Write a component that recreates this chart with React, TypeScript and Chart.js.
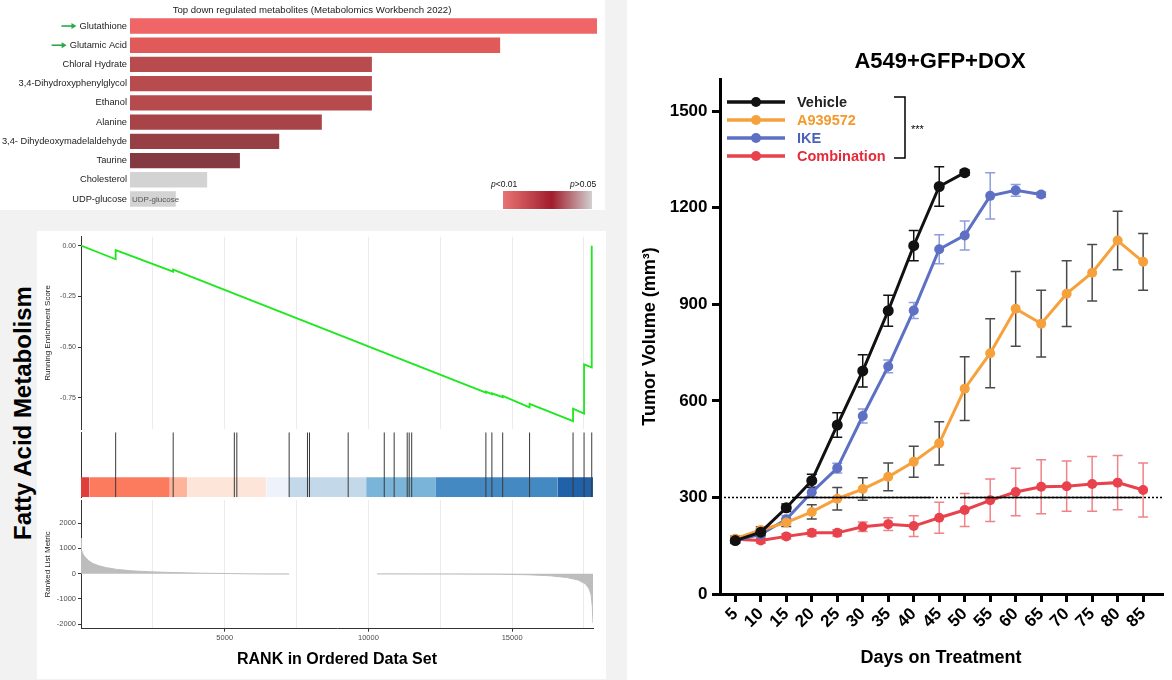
import React, { useEffect, useRef } from "react";
import { Chart, registerables } from "chart.js";

Chart.register(...registerables);

const FONT = "'Liberation Sans', Arial, Helvetica, sans-serif";
Chart.defaults.font.family = FONT;

// ================= Panel A: top down-regulated metabolites =================
const metaboliteTitle = "Top down regulated metabolites (Metabolomics Workbench 2022)";
const metabolites = [
  "Glutathione",
  "Glutamic Acid",
  "Chloral Hydrate",
  "3,4-Dihydroxyphenylglycol",
  "Ethanol",
  "Alanine",
  "3,4- Dihydeoxymadelaldehyde",
  "Taurine",
  "Cholesterol",
  "UDP-glucose",
];
const metaboliteScores = [10.0, 7.93, 5.19, 5.19, 5.19, 4.12, 3.21, 2.37, 1.67, 1.0];
const metaboliteColors = [
  "#f06565", "#e05a5a", "#b84b4e", "#b84b4e", "#b64a4d",
  "#a84448", "#963f45", "#843a40", "#d3d3d3", "#d3d3d3",
];
const arrowedMetabolites = ["Glutathione", "Glutamic Acid"];
const inBarLabel = "UDP-glucose";
const pLegendLow = "<0.01";
const pLegendHigh = ">0.05";

// ================= Panel B: GSEA Fatty Acid Metabolism =================
const gseaTitle = "Fatty Acid Metabolism";
const rankMax = 17814;
const rankTicks = [0, 2500, 5000, 7500, 10000, 12500, 15000, 17500];
const rankLabelTicks = [5000, 10000, 15000];
const esRanks = [0, 1206, 1206, 3206, 3206, 14087, 14087, 14296, 14296, 14672, 14672, 15607, 15607, 17120, 17120, 17503, 17503, 17770, 17770];
const esScores = [0, -0.067, -0.022, -0.128, -0.118, -0.725, -0.72, -0.732, -0.728, -0.747, -0.741, -0.797, -0.78, -0.865, -0.804, -0.828, -0.585, -0.6, 0];
const esTicks = [0, -0.25, -0.5, -0.75];
const hitRanks = [1206, 3208, 5335, 5422, 7242, 7880, 7950, 9296, 10551, 10896, 11350, 11419, 11506, 14087, 14296, 14672, 15607, 17120, 17503, 17770];
const bandStarts = [0, 300, 3090, 3700, 6450, 7220, 9920, 12350, 16570];
const bandEnds = [300, 3090, 3700, 6450, 7220, 9920, 12350, 16570, 17814];
const bandColors = ["#e03e3a", "#fc7b5f", "#fdb49a", "#fee5d9", "#eef2fa", "#c3d9e9", "#7bb4d9", "#4589c3", "#2161a7"];
const metricRanks = [0, 8, 25, 60, 110, 170, 260, 400, 600, 880, 1250, 1750, 2400, 3200, 4200, 5200, 6300, 7240, 8800, 10300, 11500, 13000, 14500, 15500, 16300, 16900, 17300, 17550, 17680, 17750, 17790, 17814];
const metricValues = [1400, 1080, 930, 800, 700, 620, 520, 410, 320, 240, 170, 115, 75, 45, 20, 5, -12, -15, null, -10, -12, -15, -20, -40, -80, -150, -250, -400, -600, -850, -1300, -1950];
const metricTicks = [-2000, -1000, 0, 1000, 2000];

// ================= Panel C: tumour volume =================
const tumorTitle = "A549+GFP+DOX";
const days = [5, 10, 15, 20, 25, 30, 35, 40, 45, 50, 55, 60, 65, 70, 75, 80, 85];
const volumeTicks = [0, 300, 600, 900, 1200, 1500];
const groups = ["Vehicle", "A939572", "IKE", "Combination"];
const vehicleVolume = [166, 192, 268, 352, 525, 693, 880, 1082, 1266, 1309];
const vehicleSem = [8, 10, 12, 20, 38, 50, 48, 47, 61, 8];
const a939572Volume = [172, 199, 222, 255, 296, 326, 364, 411, 468, 638, 748, 886, 840, 933, 998, 1098, 1032];
const a939572Sem = [8, 10, 12, 22, 35, 35, 43, 48, 67, 99, 107, 116, 104, 102, 88, 91, 88];
const ikeVolume = [166, 185, 232, 316, 391, 553, 707, 881, 1071, 1114, 1237, 1254, 1241];
const ikeSem = [6, 8, 12, 15, 15, 22, 20, 25, 45, 45, 72, 18, 8];
const combinationVolume = [170, 166, 179, 190, 190, 209, 217, 211, 237, 261, 291, 317, 333, 335, 342, 346, 323];
const combinationSem = [6, 8, 8, 10, 10, 15, 20, 32, 48, 51, 66, 74, 84, 78, 85, 84, 84];
const refVolume = 300;
const refSolidSpans = [[16.5, 43.5], [49.5, 84.5]];
const significance = "***";

const groupValues = [vehicleVolume, a939572Volume, ikeVolume, combinationVolume];
const groupErrors = [vehicleSem, a939572Sem, ikeSem, combinationSem];
const lineColors = ["#111111", "#f7a13c", "#5d70c4", "#e8424c"];
const errorColors = ["#111111", "#4a4a4a", "#8e9ddb", "#f0828a"];
const legendTextColors = ["#222222", "#f49a2c", "#4a62b8", "#e52a3a"];

// ---------- helpers ----------
const fitBox = (w?: number, h?: number) => (s: any) => {
  if (w !== undefined) s.width = w;
  if (h !== undefined) s.height = h;
  s.paddingTop = 0;
  s.paddingBottom = 0;
  s.paddingLeft = 0;
  s.paddingRight = 0;
};
const setTicks = (vals: number[]) => (s: any) => {
  s.ticks = vals.map((v) => ({ value: v }));
};
const plainNumber = (v: any) => String(v);
const noLegend = { legend: { display: false }, tooltip: { enabled: false } };
const LABEL_SIZE = 9.3;

// ---------- Panel A chart ----------
const metaboliteDecor = {
  id: "metaboliteDecor",
  afterDraw(chart: any) {
    const { ctx, chartArea } = chart;
    const y = chart.scales.y;
    const x = chart.scales.x;
    ctx.save();
    ctx.fillStyle = "#222";
    ctx.font = `9.6px ${FONT}`;
    ctx.textAlign = "center";
    ctx.textBaseline = "middle";
    ctx.fillText(metaboliteTitle, 312, 10);

    // arrows before highlighted labels
    ctx.font = `${LABEL_SIZE}px ${FONT}`;
    metabolites.forEach((m, i) => {
      if (!arrowedMetabolites.includes(m)) return;
      const yy = y.getPixelForValue(i);
      const w = ctx.measureText(m).width;
      const xEnd = chartArea.left - 3 - w - 3;
      const xStart = xEnd - 15;
      ctx.strokeStyle = "#2aa84a";
      ctx.fillStyle = "#2aa84a";
      ctx.lineWidth = 1.6;
      ctx.beginPath();
      ctx.moveTo(xStart, yy);
      ctx.lineTo(xEnd - 4, yy);
      ctx.stroke();
      ctx.beginPath();
      ctx.moveTo(xEnd, yy);
      ctx.lineTo(xEnd - 5, yy - 3);
      ctx.lineTo(xEnd - 5, yy + 3);
      ctx.closePath();
      ctx.fill();
    });

    // label inside the last bar
    const ui = metabolites.indexOf(inBarLabel);
    ctx.font = `8px ${FONT}`;
    ctx.fillStyle = "#555";
    ctx.textAlign = "left";
    ctx.fillText(inBarLabel, x.getPixelForValue(0) + 2, y.getPixelForValue(ui) + 1);

    // p-value gradient legend
    const gx0 = 503, gx1 = 592, gy0 = 191, gy1 = 209;
    const g = ctx.createLinearGradient(gx0, 0, gx1, 0);
    g.addColorStop(0, "#e87474");
    g.addColorStop(0.55, "#a11d2d");
    g.addColorStop(1, "#d2d0d0");
    ctx.fillStyle = g;
    ctx.fillRect(gx0, gy0, gx1 - gx0, gy1 - gy0);
    const drawP = (rest: string, px: number, py: number) => {
      ctx.fillStyle = "#111";
      ctx.font = `italic 8.5px ${FONT}`;
      ctx.fillText("p", px, py);
      const pw = ctx.measureText("p").width;
      ctx.font = `8.5px ${FONT}`;
      ctx.fillText(rest, px + pw, py);
    };
    drawP(pLegendLow, 491, 185);
    drawP(pLegendHigh, 570, 185);
    ctx.restore();
  },
};

const makeMetaboliteChart = () => ({
  type: "bar",
  data: {
    labels: metabolites,
    datasets: [
      {
        data: metaboliteScores,
        backgroundColor: metaboliteColors,
        borderColor: "rgba(255,255,255,0.55)",
        borderWidth: 1,
        barPercentage: 0.9,
        categoryPercentage: 1,
      },
    ],
  },
  options: {
    indexAxis: "y",
    responsive: false,
    animation: false,
    layout: { padding: { top: 16.4, right: 8, bottom: 0.4, left: 0 } },
    plugins: noLegend,
    scales: {
      x: { display: false, min: 0, max: 10 },
      y: {
        afterFit: fitBox(130),
        grid: { display: false, drawTicks: false },
        border: { display: false },
        ticks: { padding: 3, color: "#222", font: { family: FONT, size: LABEL_SIZE } },
      },
    },
  },
  plugins: [metaboliteDecor],
});

// ---------- Panel B charts ----------
const makeEsChart = () => ({
  type: "line",
  data: {
    datasets: [
      {
        data: esRanks.map((r, i) => ({ x: r, y: esScores[i] })),
        borderColor: "#1ee81e",
        borderWidth: 1.8,
        pointRadius: 0,
        tension: 0,
        fill: false,
      },
    ],
  },
  options: {
    responsive: false,
    animation: false,
    layout: { padding: { left: 0, right: 13, top: 6.7, bottom: 2 } },
    plugins: noLegend,
    scales: {
      x: {
        type: "linear",
        min: 0,
        max: rankMax,
        afterBuildTicks: setTicks(rankTicks),
        afterFit: fitBox(undefined, 0),
        ticks: { display: false },
        grid: { color: "#ebebeb", drawTicks: false, lineWidth: 1 },
        border: { display: false },
      },
      y: {
        min: -0.904,
        max: 0.044,
        afterBuildTicks: setTicks(esTicks),
        afterFit: fitBox(44),
        grid: { display: true, drawOnChartArea: false, drawTicks: true, tickLength: 3, color: "#333" },
        border: { display: true, color: "#333", width: 1 },
        ticks: {
          padding: 2,
          color: "#4d4d4d",
          font: { family: FONT, size: 7 },
          callback: (v: any) => Number(v).toFixed(2),
        },
        title: {
          display: true,
          text: "Running Enrichment Score",
          color: "#222",
          font: { family: FONT, size: 8 },
          padding: { top: 6.2, bottom: 0 },
        },
      },
    },
  },
});

const makeHitsChart = () => {
  const hitData: any[] = [];
  hitRanks.forEach((r) => {
    hitData.push({ x: r, y: 0 }, { x: r, y: 1 }, { x: r, y: null });
  });
  const bandTop = 0.308;
  const bandSets = bandStarts.map((s, i) => ({
    data: [
      { x: s, y: bandTop },
      { x: bandEnds[i], y: bandTop },
    ],
    borderWidth: 0,
    borderColor: bandColors[i],
    backgroundColor: bandColors[i],
    fill: "origin",
    pointRadius: 0,
    order: 1,
  }));
  return {
    type: "line",
    data: {
      datasets: [
        {
          data: hitData,
          borderColor: "#3a3a3a",
          borderWidth: 1,
          pointRadius: 0,
          spanGaps: false,
          fill: false,
          order: 0,
        },
        ...bandSets,
      ],
    },
    options: {
      responsive: false,
      animation: false,
      layout: { padding: { left: 0, right: 13, top: 1.3, bottom: 1.7 } },
      plugins: noLegend,
      scales: {
        x: { type: "linear", min: 0, max: rankMax, display: false },
        y: {
          min: 0,
          max: 1,
          afterFit: fitBox(44),
          ticks: { display: false },
          grid: { display: false, drawTicks: false },
          border: { display: true, color: "#333", width: 1 },
        },
      },
    },
  };
};

const makeMetricChart = () => ({
  type: "line",
  data: {
    datasets: [
      {
        data: metricRanks.map((r, i) => ({ x: r, y: metricValues[i] })),
        borderColor: "#bdbdbd",
        backgroundColor: "#bdbdbd",
        borderWidth: 1,
        fill: "origin",
        pointRadius: 0,
        spanGaps: false,
        tension: 0,
      },
    ],
  },
  options: {
    responsive: false,
    animation: false,
    layout: { padding: { left: 0, right: 13, top: 1, bottom: 0 } },
    plugins: noLegend,
    scales: {
      x: {
        type: "linear",
        min: 0,
        max: rankMax,
        afterBuildTicks: setTicks(rankTicks),
        afterFit: fitBox(undefined, 49.3),
        grid: {
          color: "#ebebeb",
          drawTicks: true,
          tickLength: 3,
          tickColor: (c: any) => (c.tick && rankLabelTicks.includes(c.tick.value) ? "#333" : "rgba(0,0,0,0)"),
        },
        border: { display: true, color: "#333", width: 1 },
        ticks: {
          autoSkip: false,
          maxRotation: 0,
          padding: 1.5,
          color: "#4d4d4d",
          font: { family: FONT, size: 7.5 },
          callback: (v: any) => (rankLabelTicks.includes(Number(v)) ? String(v) : ""),
        },
        title: {
          display: true,
          text: "RANK in Ordered Data Set",
          color: "#000",
          font: { family: FONT, size: 16, weight: "bold" },
          padding: { top: 0, bottom: 8.4 },
        },
      },
      y: {
        min: -2174,
        max: 2913,
        afterBuildTicks: setTicks(metricTicks),
        afterFit: fitBox(44),
        grid: { display: true, drawOnChartArea: false, drawTicks: true, tickLength: 3, color: "#333" },
        border: { display: true, color: "#333", width: 1 },
        ticks: { padding: 2, color: "#4d4d4d", font: { family: FONT, size: 7.5 }, callback: plainNumber },
        title: {
          display: true,
          text: "Ranked List Metric",
          color: "#222",
          font: { family: FONT, size: 8 },
          padding: { top: 6.2, bottom: 0 },
        },
      },
    },
  },
});

// ---------- Panel C chart ----------
const tumorDecor = {
  id: "tumorDecor",
  beforeDatasetsDraw(chart: any) {
    const { ctx } = chart;
    const x = chart.scales.x;
    const y = chart.scales.y;
    ctx.save();
    for (let d = groupValues.length - 1; d >= 0; d--) {
      ctx.strokeStyle = errorColors[d];
      ctx.lineWidth = 1.5;
      groupValues[d].forEach((v, i) => {
        const e = groupErrors[d][i];
        const px = x.getPixelForValue(days[i]);
        const top = y.getPixelForValue(v + e);
        const bot = y.getPixelForValue(v - e);
        ctx.beginPath();
        ctx.moveTo(px, top);
        ctx.lineTo(px, bot);
        ctx.moveTo(px - 5, top);
        ctx.lineTo(px + 5, top);
        ctx.moveTo(px - 5, bot);
        ctx.lineTo(px + 5, bot);
        ctx.stroke();
      });
    }
    ctx.restore();
  },
  afterDatasetsDraw(chart: any) {
    const { ctx, chartArea } = chart;
    const x = chart.scales.x;
    const y = chart.scales.y;
    const yr = y.getPixelForValue(refVolume);
    ctx.save();
    ctx.strokeStyle = "#000";
    ctx.lineWidth = 1.6;
    ctx.setLineDash([2, 2]);
    ctx.beginPath();
    ctx.moveTo(chartArea.left, yr);
    ctx.lineTo(chartArea.right, yr);
    ctx.stroke();
    ctx.setLineDash([]);
    ctx.lineWidth = 1.4;
    refSolidSpans.forEach(([a, b]) => {
      ctx.beginPath();
      ctx.moveTo(x.getPixelForValue(a), yr);
      ctx.lineTo(x.getPixelForValue(b), yr);
      ctx.stroke();
    });
    ctx.restore();
  },
  afterDraw(chart: any) {
    const { ctx } = chart;
    ctx.save();
    ctx.fillStyle = "#000";
    ctx.font = `bold 22px ${FONT}`;
    ctx.textAlign = "center";
    ctx.textBaseline = "middle";
    ctx.fillText(tumorTitle, 312, 62);

    const rowY = [102, 120, 138, 156];
    groups.forEach((g, i) => {
      const yy = rowY[i];
      ctx.strokeStyle = lineColors[i];
      ctx.fillStyle = lineColors[i];
      ctx.lineWidth = 3.5;
      ctx.beginPath();
      ctx.moveTo(99, yy);
      ctx.lineTo(157, yy);
      ctx.stroke();
      ctx.beginPath();
      ctx.arc(128, yy, 5, 0, Math.PI * 2);
      ctx.fill();
      ctx.fillStyle = legendTextColors[i];
      ctx.font = `bold 14.5px ${FONT}`;
      ctx.textAlign = "left";
      ctx.fillText(g, 169, yy + 1);
    });
    // bracket
    ctx.strokeStyle = "#000";
    ctx.lineWidth = 1.5;
    ctx.beginPath();
    ctx.moveTo(266, 97);
    ctx.lineTo(277, 97);
    ctx.lineTo(277, 158);
    ctx.lineTo(266, 158);
    ctx.stroke();
    ctx.fillStyle = "#000";
    ctx.font = `11px ${FONT}`;
    ctx.textAlign = "left";
    ctx.fillText(significance, 283, 130);
    ctx.restore();
  },
};

const makeTumorChart = () => ({
  type: "line",
  data: {
    datasets: groups.map((g, d) => ({
      label: g,
      data: groupValues[d].map((v, i) => ({ x: days[i], y: v })),
      borderColor: lineColors[d],
      backgroundColor: lineColors[d],
      pointBackgroundColor: lineColors[d],
      pointBorderColor: lineColors[d],
      borderWidth: 3,
      pointRadius: d === 0 ? 5.5 : 5,
      pointBorderWidth: 0,
      tension: 0,
      fill: false,
    })),
  },
  options: {
    responsive: false,
    animation: false,
    layout: { padding: { left: 0, right: 10, top: 79, bottom: 0 } },
    plugins: noLegend,
    scales: {
      x: {
        type: "linear",
        min: 2,
        max: 88.7,
        afterBuildTicks: setTicks(days),
        afterFit: fitBox(undefined, 86),
        grid: { display: true, drawOnChartArea: false, drawTicks: true, tickLength: 8, lineWidth: 3, color: "#000" },
        border: { display: true, color: "#000", width: 3 },
        ticks: {
          autoSkip: false,
          minRotation: 45,
          maxRotation: 45,
          padding: 2,
          color: "#000",
          font: { family: FONT, size: 17, weight: "bold" },
          callback: plainNumber,
        },
        title: {
          display: true,
          text: "Days on Treatment",
          color: "#000",
          font: { family: FONT, size: 18, weight: "bold" },
          padding: { top: 0, bottom: 11 },
        },
      },
      y: {
        min: 0,
        max: 1600,
        afterBuildTicks: setTicks(volumeTicks),
        afterFit: fitBox(92),
        grid: { display: true, drawOnChartArea: false, drawTicks: true, tickLength: 8, lineWidth: 3, color: "#000" },
        border: { display: true, color: "#000", width: 3 },
        ticks: { padding: 4.5, color: "#000", font: { family: FONT, size: 17, weight: "bold" }, callback: plainNumber },
        title: {
          display: true,
          text: "Tumor Volume (mm\u00B3)",
          color: "#000",
          font: { family: FONT, size: 18, weight: "bold" },
          padding: { top: 11, bottom: 0 },
        },
      },
    },
  },
  plugins: [tumorDecor],
});

// ---------- canvas wrapper ----------
function ChartBox(props: { left: number; top: number; width: number; height: number; make: () => any }) {
  const ref = useRef<HTMLCanvasElement>(null);
  useEffect(() => {
    const chart = new Chart(ref.current as HTMLCanvasElement, props.make());
    return () => chart.destroy();
  }, []);
  return (
    <canvas
      ref={ref}
      width={props.width}
      height={props.height}
      style={{ position: "absolute", left: props.left, top: props.top, width: props.width, height: props.height }}
    />
  );
}

export default function App() {
  return (
    <div
      style={{
        position: "fixed",
        left: 0,
        top: 0,
        width: 1172,
        height: 680,
        background: "#f2f2f2",
        overflow: "hidden",
        fontFamily: FONT,
      }}
    >
      <div style={{ position: "absolute", left: 0, top: 0, width: 605, height: 210, background: "#fff" }} />
      <div style={{ position: "absolute", left: 37, top: 231, width: 569, height: 448, background: "#fff" }} />
      <div style={{ position: "absolute", left: 627, top: 0, width: 545, height: 680, background: "#fff" }} />
      <ChartBox left={0} top={0} width={606} height={209} make={makeMetaboliteChart} />
      <div
        style={{
          position: "absolute",
          left: 22.7,
          top: 413,
          transform: "translate(-50%, -50%) rotate(-90deg)",
          whiteSpace: "nowrap",
          fontSize: 24,
          fontWeight: "bold",
          lineHeight: "28px",
          color: "#000",
        }}
      >
        {gseaTitle}
      </div>
      <ChartBox left={37} top={230} width={569} height={201} make={makeEsChart} />
      <ChartBox left={37} top={431} width={569} height={68} make={makeHitsChart} />
      <ChartBox left={37} top={499} width={569} height={179} make={makeMetricChart} />
      <ChartBox left={628} top={0} width={544} height={680} make={makeTumorChart} />
    </div>
  );
}
